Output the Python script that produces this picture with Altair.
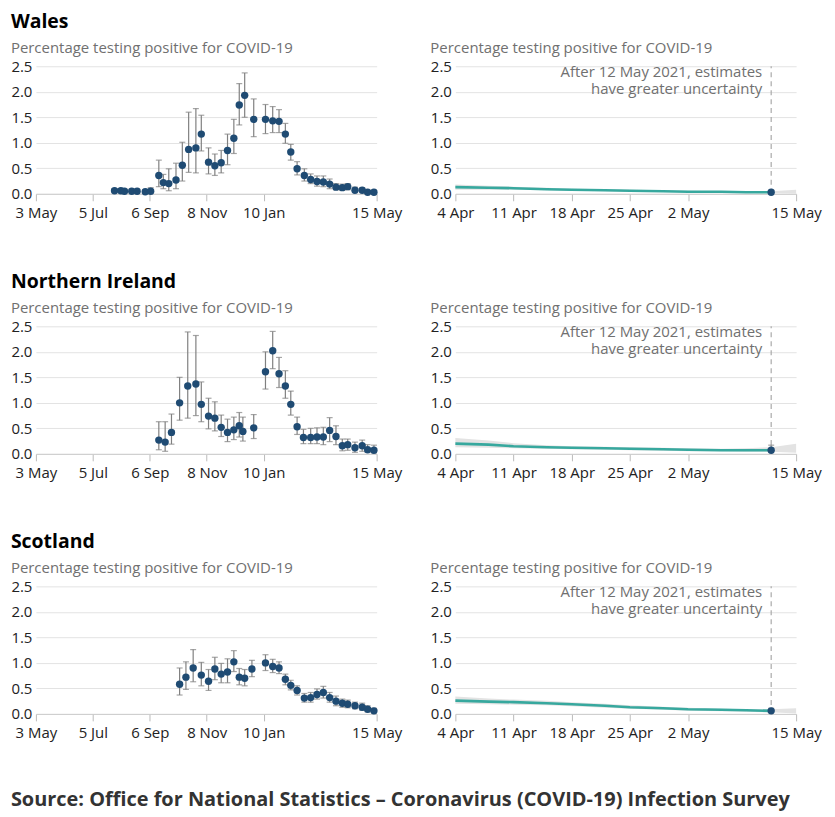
import altair as alt
import pandas as pd

FONT = "Open Sans"
DOT = "#1f4b73"
ERR = "#808080"
TEAL = "#37a89e"
BAND = "#e3e3e3"
SUBTITLE = "Percentage testing positive for COVID-19"
NOTE = "After 12 May 2021, estimates\nhave greater uncertainty"
SOURCE = "Source: Office for National Statistics \u2013 Coronavirus (COVID-19) Infection Survey"

# ---------------- observed (left panels) ----------------
wales_dates = ["2020-07-29", "2020-08-05", "2020-08-09", "2020-08-17", "2020-08-23", "2020-09-01",
               "2020-09-07", "2020-09-16", "2020-09-21", "2020-09-27", "2020-10-05", "2020-10-12",
               "2020-10-19", "2020-10-27", "2020-11-02", "2020-11-10", "2020-11-17", "2020-11-24",
               "2020-12-01", "2020-12-08", "2020-12-14", "2020-12-20", "2020-12-30", "2021-01-12",
               "2021-01-20", "2021-01-27", "2021-02-03", "2021-02-09", "2021-02-16", "2021-02-24",
               "2021-03-03", "2021-03-10", "2021-03-17", "2021-03-24", "2021-03-31", "2021-04-07",
               "2021-04-13", "2021-04-21", "2021-04-29", "2021-05-05", "2021-05-12"]
wales_mid = [0.06, 0.06, 0.05, 0.05, 0.05, 0.04, 0.05, 0.36, 0.22, 0.20, 0.27, 0.56, 0.87, 0.90,
             1.17, 0.62, 0.55, 0.61, 0.85, 1.09, 1.74, 1.93, 1.46, 1.46, 1.43, 1.42, 1.17, 0.82,
             0.49, 0.36, 0.28, 0.24, 0.23, 0.19, 0.13, 0.12, 0.14, 0.07, 0.07, 0.03, 0.03]
wales_lo = [0.03, 0.03, 0.02, 0.02, 0.02, 0.02, 0.02, 0.14, 0.10, 0.06, 0.10, 0.25, 0.42, 0.41,
            0.84, 0.39, 0.36, 0.41, 0.57, 0.79, 1.35, 1.50, 1.12, 1.18, 1.20, 1.20, 0.99, 0.66,
            0.37, 0.25, 0.20, 0.15, 0.14, 0.10, 0.08, 0.07, 0.08, 0.04, 0.04, 0.01, 0.01]
wales_hi = [0.10, 0.10, 0.09, 0.09, 0.09, 0.08, 0.12, 0.66, 0.38, 0.49, 0.60, 1.01, 1.60, 1.67,
            1.54, 0.90, 0.78, 0.85, 1.17, 1.46, 2.16, 2.37, 1.86, 1.75, 1.71, 1.65, 1.38, 0.97,
            0.63, 0.49, 0.39, 0.35, 0.35, 0.29, 0.20, 0.19, 0.20, 0.13, 0.12, 0.07, 0.07]

ni_dates = ["2020-09-16", "2020-09-23", "2020-09-30", "2020-10-09", "2020-10-18", "2020-10-27",
            "2020-11-02", "2020-11-10", "2020-11-17", "2020-11-24", "2020-12-01", "2020-12-08",
            "2020-12-14", "2020-12-18", "2020-12-30", "2021-01-12", "2021-01-20", "2021-01-27",
            "2021-02-03", "2021-02-09", "2021-02-16", "2021-02-23", "2021-03-03", "2021-03-10",
            "2021-03-17", "2021-03-24", "2021-03-31", "2021-04-07", "2021-04-13", "2021-04-21",
            "2021-04-29", "2021-05-05", "2021-05-12"]
ni_mid = [0.27, 0.23, 0.42, 1.00, 1.33, 1.37, 0.97, 0.74, 0.70, 0.52, 0.42, 0.47, 0.55, 0.44,
          0.51, 1.61, 2.02, 1.57, 1.33, 0.97, 0.53, 0.32, 0.32, 0.33, 0.33, 0.46, 0.34, 0.16,
          0.18, 0.12, 0.16, 0.08, 0.07]
ni_lo = [0.08, 0.05, 0.19, 0.66, 0.70, 0.75, 0.63, 0.49, 0.45, 0.34, 0.24, 0.28, 0.33, 0.25,
         0.30, 1.27, 1.67, 1.30, 1.09, 0.76, 0.38, 0.20, 0.20, 0.20, 0.18, 0.24, 0.18, 0.06,
         0.07, 0.03, 0.05, 0.03, 0.02]
ni_hi = [0.63, 0.63, 0.78, 1.50, 2.39, 2.32, 1.41, 1.09, 1.02, 0.76, 0.68, 0.72, 0.81, 0.72,
         0.77, 2.00, 2.40, 1.89, 1.63, 1.23, 0.72, 0.48, 0.50, 0.51, 0.52, 0.71, 0.55, 0.29,
         0.29, 0.23, 0.27, 0.18, 0.17]

scot_dates = ["2020-10-09", "2020-10-16", "2020-10-24", "2020-11-02", "2020-11-10", "2020-11-17",
              "2020-11-24", "2020-12-01", "2020-12-08", "2020-12-14", "2020-12-20", "2020-12-28",
              "2021-01-12", "2021-01-20", "2021-01-27", "2021-02-03", "2021-02-09", "2021-02-16",
              "2021-02-24", "2021-03-03", "2021-03-10", "2021-03-17", "2021-03-24", "2021-03-31",
              "2021-04-07", "2021-04-13", "2021-04-21", "2021-04-29", "2021-05-05", "2021-05-12"]
scot_mid = [0.58, 0.72, 0.90, 0.76, 0.64, 0.88, 0.78, 0.82, 1.02, 0.72, 0.70, 0.88, 1.00, 0.93,
            0.90, 0.68, 0.56, 0.46, 0.31, 0.32, 0.38, 0.42, 0.32, 0.25, 0.21, 0.19, 0.16, 0.13,
            0.09, 0.06]
scot_lo = [0.37, 0.48, 0.63, 0.55, 0.46, 0.67, 0.61, 0.61, 0.83, 0.57, 0.55, 0.73, 0.85, 0.81,
           0.79, 0.57, 0.47, 0.37, 0.23, 0.23, 0.29, 0.31, 0.23, 0.16, 0.13, 0.12, 0.10, 0.07,
           0.04, 0.02]
scot_hi = [0.90, 1.02, 1.26, 1.01, 0.87, 1.11, 0.99, 1.08, 1.24, 0.89, 0.87, 1.05, 1.16, 1.07,
           1.02, 0.78, 0.66, 0.55, 0.40, 0.42, 0.49, 0.54, 0.42, 0.35, 0.29, 0.27, 0.23, 0.21,
           0.16, 0.11]

# ---------------- modelled (right panels) ----------------
model_dates = ["2021-04-04", "2021-04-08", "2021-04-11", "2021-04-15", "2021-04-18", "2021-04-22",
               "2021-04-25", "2021-04-29", "2021-05-02", "2021-05-06", "2021-05-09", "2021-05-12",
               "2021-05-15"]
wales_model = [0.13, 0.12, 0.11, 0.09, 0.08, 0.07, 0.06, 0.05, 0.04, 0.04, 0.03, 0.03, None]
wales_model_lo = [0.08, 0.08, 0.08, 0.07, 0.06, 0.05, 0.04, 0.04, 0.03, 0.02, 0.02, 0.01, 0.00]
wales_model_hi = [0.18, 0.16, 0.14, 0.12, 0.10, 0.09, 0.08, 0.07, 0.06, 0.05, 0.05, 0.05, 0.08]
ni_model = [0.20, 0.18, 0.15, 0.13, 0.12, 0.11, 0.10, 0.09, 0.08, 0.07, 0.07, 0.07, None]
ni_model_lo = [0.13, 0.12, 0.11, 0.10, 0.09, 0.08, 0.07, 0.06, 0.05, 0.05, 0.04, 0.04, 0.02]
ni_model_hi = [0.31, 0.26, 0.21, 0.17, 0.15, 0.14, 0.13, 0.12, 0.11, 0.10, 0.11, 0.13, 0.20]
scot_model = [0.26, 0.24, 0.23, 0.21, 0.19, 0.16, 0.13, 0.11, 0.09, 0.08, 0.07, 0.06, None]
scot_model_lo = [0.20, 0.19, 0.18, 0.17, 0.15, 0.12, 0.10, 0.08, 0.06, 0.05, 0.04, 0.03, 0.01]
scot_model_hi = [0.34, 0.30, 0.28, 0.26, 0.23, 0.20, 0.17, 0.14, 0.12, 0.10, 0.09, 0.09, 0.11]

cutoff_date = "2021-05-12"


def dt(y, m, d):
    return alt.DateTime(year=y, month=m, date=d, utc=True)


left_ticks = [dt(2020, 5, 3), dt(2020, 7, 5), dt(2020, 9, 6), dt(2020, 11, 8), dt(2021, 1, 10), dt(2021, 5, 15)]
right_ticks = [dt(2021, 4, 4), dt(2021, 4, 11), dt(2021, 4, 18), dt(2021, 4, 25), dt(2021, 5, 2), dt(2021, 5, 15)]

W, H = 342, 128

y_scale = alt.Scale(domain=[0, 2.5], nice=False)
y_axis = alt.Axis(values=[0, 0.5, 1, 1.5, 2, 2.5], format=".1f", title=None, domain=False,
                  ticks=False, grid=True, gridColor="#e3e3e3", labelPadding=4)


def x_axis(vals):
    return alt.Axis(values=vals, format="%-d %b", title=None, grid=False, domain=True,
                    domainColor="#cccccc", tickColor="#bbbbbb", tickSize=7, labelPadding=5,
                    labelFlush=False, labelOverlap=False)


panel_title = alt.TitleParams(SUBTITLE, anchor="start", frame="bounds", fontSize=15,
                              fontWeight="normal", color="#707070", font=FONT, offset=3)


def make_row(name, dates, mid, lo, hi, m_mid, m_lo, m_hi):
    obs = pd.DataFrame({"date": dates, "mid": mid, "lo": lo, "hi": hi})
    xs = alt.Scale(type="utc", domain=[dt(2020, 5, 3), dt(2021, 5, 15)])
    xl = alt.X("date:T", scale=xs, axis=x_axis(left_ticks))
    y = alt.Y("mid:Q", scale=y_scale, axis=y_axis)
    base = alt.Chart(obs)
    err = base.mark_rule(color=ERR, strokeWidth=1.2).encode(x=xl, y=alt.Y("lo:Q", scale=y_scale, axis=y_axis), y2="hi:Q")
    cap_lo = base.mark_tick(color=ERR, orient="horizontal", size=6, thickness=1.2).encode(
        x=xl, y=alt.Y("lo:Q", scale=y_scale, axis=y_axis))
    cap_hi = base.mark_tick(color=ERR, orient="horizontal", size=6, thickness=1.2).encode(
        x=xl, y=alt.Y("hi:Q", scale=y_scale, axis=y_axis))
    dots = base.mark_circle(color=DOT, size=55, opacity=1).encode(x=xl, y=y)
    left = alt.layer(err, cap_lo, cap_hi, dots).properties(width=W, height=H, title=panel_title)

    model = pd.DataFrame({"date": model_dates, "mid": m_mid, "lo": m_lo, "hi": m_hi})
    xs2 = alt.Scale(type="utc", domain=[dt(2021, 4, 4), dt(2021, 5, 15)])
    xr = alt.X("date:T", scale=xs2, axis=x_axis(right_ticks))
    mbase = alt.Chart(model)
    band = mbase.mark_area(color=BAND, opacity=1).encode(
        x=xr, y=alt.Y("lo:Q", scale=y_scale, axis=y_axis), y2="hi:Q")
    line = mbase.mark_line(color=TEAL, strokeWidth=2.6).encode(x=xr, y=y)
    cut = pd.DataFrame({"date": [cutoff_date], "top": [2.5], "bottom": [0.0], "note": [NOTE]})
    cbase = alt.Chart(cut)
    rule = cbase.mark_rule(color="#aaaaaa", strokeDash=[5, 4], strokeWidth=1.2).encode(
        x=xr, y=alt.Y("bottom:Q", scale=y_scale, axis=y_axis), y2="top:Q")
    note = cbase.mark_text(align="right", baseline="top", dx=-9, dy=-1, lineBreak="\n",
                           lineHeight=16.5, font=FONT, fontSize=15, color="#707070").encode(
        x=xr, y=alt.Y("top:Q", scale=y_scale, axis=y_axis), text="note:N")
    last = obs[obs["date"] == cutoff_date]
    lbase = alt.Chart(last)
    lerr = lbase.mark_rule(color=ERR, strokeWidth=1.2).encode(
        x=xr, y=alt.Y("lo:Q", scale=y_scale, axis=y_axis), y2="hi:Q")
    lcap = lbase.mark_tick(color=ERR, orient="horizontal", size=6, thickness=1.2).encode(
        x=xr, y=alt.Y("hi:Q", scale=y_scale, axis=y_axis))
    ldot = lbase.mark_circle(color=DOT, size=55, opacity=1).encode(x=xr, y=y)
    right = alt.layer(band, line, rule, note, lerr, lcap, ldot).properties(
        width=W, height=H, title=panel_title)

    return alt.hconcat(left, right, spacing=27).properties(
        title=alt.TitleParams(name, anchor="start", fontSize=19.5, fontWeight="bold",
                              color="#000000", font=FONT, offset=9))


rows = [
    make_row("Wales", wales_dates, wales_mid, wales_lo, wales_hi, wales_model, wales_model_lo, wales_model_hi),
    make_row("Northern Ireland", ni_dates, ni_mid, ni_lo, ni_hi, ni_model, ni_model_lo, ni_model_hi),
    make_row("Scotland", scot_dates, scot_mid, scot_lo, scot_hi, scot_model, scot_model_lo, scot_model_hi),
]

chart = alt.vconcat(*rows, spacing=51).properties(
    title=alt.TitleParams(SOURCE, orient="bottom", anchor="start", fontSize=20, fontWeight="bold",
                          color="#333333", font=FONT, offset=49),
    padding={"left": 2, "top": 2, "right": 5, "bottom": 5},
).configure_view(stroke=None).configure_axis(
    labelFont=FONT, labelFontSize=15, labelColor="#222222"
)

chart.save("out.html", embed_options={"renderer": "svg", "actions": False})
